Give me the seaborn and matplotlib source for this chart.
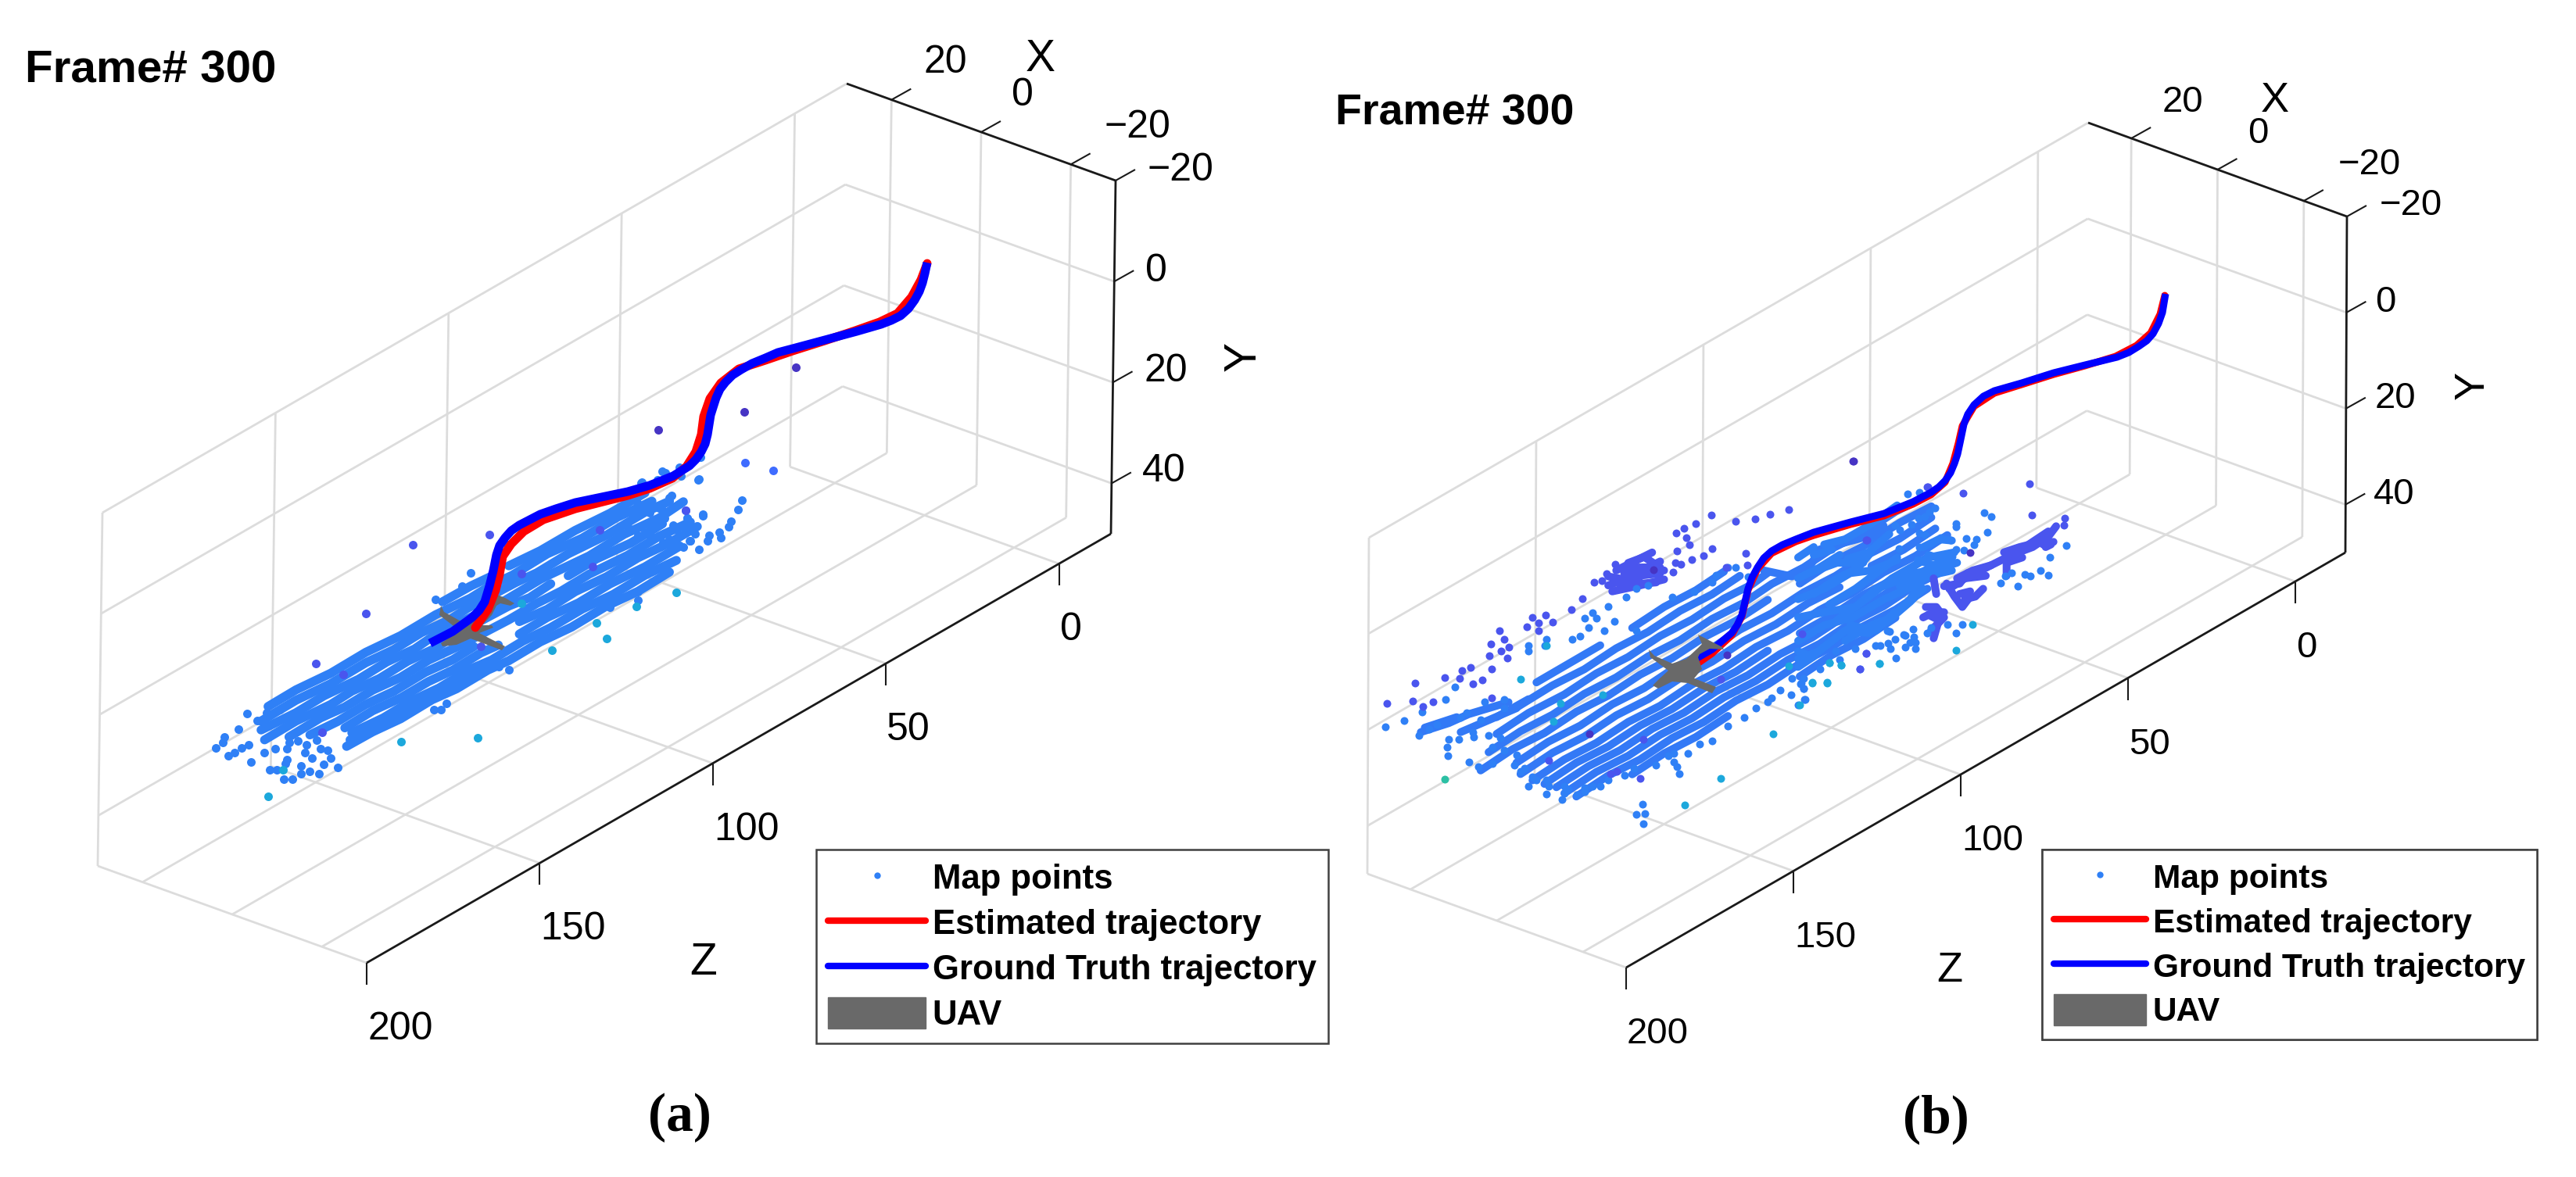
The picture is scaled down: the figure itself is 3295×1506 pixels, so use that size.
import numpy as np
import matplotlib
matplotlib.use("Agg")
import matplotlib.pyplot as plt
from matplotlib.lines import Line2D
from matplotlib.patches import Patch
import seaborn as sns

# ---------------------------------------------------------------- axis data
X_LIM = (-30, 30); Y_LIM = (-20, 50); Z_LIM = (-15, 200)
X_TICKS = [-20, 0, 20]; Y_TICKS = [-20, 0, 20, 40]; Z_TICKS = [0, 50, 100, 150, 200]
TITLE = "Frame# 300"
LEGEND_LABELS = ["Map points", "Estimated trajectory", "Ground Truth trajectory", "UAV"]

# All picture data below were read from the reference. The plane of the page is
# the data space. Values are kept in the units of the crop they were read from.
CROP_A = (200, 600, 2.24, 3.0)      # panel (a), cloud
CROP_A2 = (800, 0, 1.96, 2.24)      # panel (a), upper part of the cloud
CROP_B = (1700, 500, 1.96, 2.61)    # panel (b), main cloud
CROP_B2 = (2300, 500, 3.0, 3.0)     # panel (b), right part of the cloud

# Trajectories (page units)
a_gt = [(1186,336),(1183,350),(1180,362),(1176,373),(1170,384),(1162,395),(1152,404),(1140,410),(1127,415),(1096,424),(1055,435),(1014,446),(995,451),(979,458),(962,465),(948,473),(937,480),(928,489),(921,498),(916,509),(909,531),(905,556),(902,568),(897,578),(890,588),(882,596),(861,609),(831,621),(803,629),(736,643),(711,651),(691,658),(664,672),(654,679),(646,688),(639,698),(635,710),(631,730),(626,750),(620,770),(613,781),(604,790),(579,808),(550,823)]
a_est = [(1186,337),(1178,358),(1166,380),(1148,401),(1125,412),(1094,423),(1055,436),(1014,449),(979,461),(945,472),(922,490),(908,510),(900,533),(897,556),(890,578),(878,597),(860,612),(831,625),(803,634),(736,651),(695,665),(670,680),(654,696),(643,712),(639,735),(634,755),(624,780),(608,803)]
b_gt = [(2770,376),(2768,388),(2766,400),(2761,414),(2754,427),(2746,436),(2736,443),(2723,451),(2708,457),(2667,467),(2627,477),(2586,490),(2551,500),(2537,507),(2525,518),(2517,530),(2512,543),(2507,567),(2504,581),(2500,593),(2495,605),(2488,615),(2480,623),(2470,630),(2447,642),(2410,657),(2367,668),(2320,681),(2297,690),(2280,697),(2266,705),(2256,714),(2248,726),(2241,739),(2236,753),(2228,787),(2222,800),(2215,810),(2190,831),(2159,849)]
b_est = [(2769,378),(2763,402),(2751,426),(2733,442),(2706,456),(2667,468),(2627,479),(2586,492),(2551,503),(2525,520),(2510,545),(2505,567),(2498,593),(2488,617),(2470,633),(2447,645),(2410,660),(2367,671),(2320,685),(2297,693),(2266,708),(2248,728),(2236,755),(2228,789),(2215,813),(2190,836),(2167,852)]

# UAV outlines (page units)
a_uav = [(626,757),(646,765),(658,772),(653,775),(640,772),(635,775),(629,787),(617,800),(629,800),(631,803),(613,810),(646,827),(642,832),(602,817),(584,825),(566,827),(564,823),(579,813),(588,807),(562,787),(564,775),(568,783),(593,797),(608,787),(622,770),(624,763)]
b_uav = [(2172,812),(2203,828),(2205,831),(2187,830),(2174,837),(2172,841),(2177,856),(2167,868),(2195,879),(2190,887),(2159,874),(2139,872),(2121,881),(2114,877),(2123,868),(2134,858),(2111,841),(2109,831),(2116,839),(2139,849),(2157,843),(2172,829),(2177,824)]

# Dense map-point rows: single dots overlap too much to be read one by one, so
# the vertices of each visible row are read and joined by a stroke of dot width.
a_rows = [
 [(820,510),(900,450),(960,412)],
 [(1010,372),(1100,314),(1200,236),(1300,170),(1400,92)],
 [(320,912),(400,848),(500,784),(600,704),(700,640),(800,560),(900,496),(960,446),(1020,408),(1120,326),(1220,266),(1320,186),(1420,124)],
 [(300,968),(400,888),(500,824),(600,744),(680,694),(760,628),(840,579),(890,536),(1030,436),(1090,399),(1180,326),(1290,254),(1400,166),(1470,124)],
 [(300,1002),(400,936),(480,871),(580,807),(660,741),(740,691),(800,636),(1000,504),(1100,424),(1130,404),(1240,334),(1340,251),(1440,189),(1510,126)],
 [(310,1040),(400,968),(500,904),(560,853),(640,804),(720,738),(800,688),(870,626),(1010,526),(1070,494),(1130,441)],
 [(1180,410),(1260,346),(1360,284),(1450,211)],
 [(380,1029),(470,956),(540,914),(620,849),(700,800),(780,734),(860,684),(1010,579),(1090,516),(1160,469),(1240,404),(1350,332),(1440,259),(1530,204)],
 [(440,1021),(520,969),(600,904),(680,854),(770,781),(850,732),(910,682)],
 [(1040,586),(1120,539),(1200,471),(1290,414),(1380,341),(1470,284),(1550,221)],
 [(540,994),(620,928),(700,879),(780,816),(850,772),(930,706),(980,676)],
 [(1040,634),(1120,570),(1210,514),(1300,441),(1400,376),(1500,296)],
 [(560,1013),(650,956),(730,891),(810,841),(900,768),(960,734),(1050,661),(1130,609),(1220,538),(1310,481),(1400,408),(1490,351)],
 [(545,1065),(620,1009),(700,959),(790,886),(860,844),(950,772),(1010,736),(1100,664),(1190,607),(1290,526),(1380,470),(1470,396)],
 [(555,1040),(640,990),(720,930),(800,870),(880,810),(960,760)],
]
a_base = [(170,1070),(195,1030),(190,1050),(205,1100),(225,1090),(245,1070),(265,1060),(270,1125),(235,1000),(260,940),(290,965),(315,935),(355,925),(310,1090),(340,1075),(380,1050),(405,1045),(375,1075),(375,1115),(430,1060),(425,1090),(445,1110),(470,1075),(490,1080),(500,1110),(480,1135),(520,1145),(465,1170),(440,1160),(415,1140),(415,1170),(370,1130),(325,1155),(345,1155),(365,1190),(390,1190),(460,1040),(830,900),(795,925),(815,925),(1010,770),(1300,530),(1415,258),(1380,255),(1440,150),(1470,110),(1455,190),(1520,190),(1510,215),(1490,235),(1470,270),(1530,275),(1555,310),(1510,300),(1565,180),(1555,40),(1390,50),(1450,10),(1380,470),(1380,505),(980,760),(900,400),(875,450),(800,500)]
a2_base = [(188,1310),(183,1375),(100,1355),(135,1340),(140,1365),(40,1385),(80,1375),(292,1433),(283,1460),(265,1495),(258,1510),(235,1525),(240,1540),(210,1535),(205,1550),(160,1550),(175,1530),(150,1463),(195,1475),(155,1485),(120,1505),(115,1420),(110,1435),(90,1455),(60,1470),(30,1440),(15,1470),(40,1510),(60,1535),(95,1555),(125,1515),(5,1510)]
a_violet = [(955,253),(734,290),(600,555),(458,747),(1045,402),(1005,290),(930,680),(535,790),(1517,160),(1270,235),(475,1010),(1250,375)]
a2_violet = [(300,1325),(370,1348)]
a2_dark = [(427,1053),(297,1180),(83,1232),(173,1305)]
a_cyan = [(321,1256),(921,1032),(700,1048),(1133,697),(1290,651),(1262,591),(1490,473),(1375,527),(1045,515),(362,1155)]

b_rows = [
 [(520,974),(600,912),(680,850)],
 [(760,792),(840,722),(920,666),(990,604)],
 [(470,1058),(560,984),(640,930),(720,860),(800,805),(880,735),(960,680),(1030,618)],
 [(420,1146),(500,1076),(590,1014),(670,944),(750,889),(830,819),(910,764),(990,694),(1060,647),(1100,608)],
 [(400,1207),(480,1137),(560,1082),(640,1012),(720,957),(800,887),(880,833),(960,762),(1040,708),(1110,645),(1190,590),(1260,528),(1340,474),(1420,404),(1480,364)],
 [(380,1268),(460,1197),(540,1143),(620,1072),(700,1018),(780,948),(860,893),(940,823),(1020,768),(1100,698)],
 [(1180,644),(1260,573),(1340,519),(1430,441),(1510,386)],
 [(470,1242),(550,1172),(630,1118),(710,1047),(790,993),(870,922),(950,868),(1030,798),(1110,743),(1190,673),(1270,618),(1350,548),(1430,494),(1510,423)],
 [(480,1280),(560,1209),(640,1155),(720,1084),(800,1030),(880,960),(960,905),(1040,835),(1120,780),(1200,710),(1280,656)],
 [(1360,585),(1440,531),(1520,460)],
 [(510,1301),(590,1231),(670,1176),(750,1106),(830,1052),(910,981),(990,927),(1070,856),(1150,802),(1230,732),(1310,677),(1390,607),(1470,552),(1550,482)],
 [(540,1313),(620,1242),(700,1188),(780,1118),(860,1063),(940,993),(1020,938),(1100,868)],
 [(1180,810),(1260,751),(1340,681),(1420,626),(1500,556)],
 [(570,1324),(650,1254),(730,1200),(810,1129),(890,1075),(970,1004),(1050,950),(1130,880),(1210,825),(1290,755),(1370,700),(1450,630),(1530,576)],
 [(590,1344),(670,1273),(750,1219),(830,1149),(910,1094),(990,1024),(1070,969),(1150,899),(1230,845),(1310,774),(1390,720),(1470,649),(1550,595)],
 [(620,1355),(700,1285),(780,1231),(860,1160),(940,1106),(1020,1035),(1100,981),(1180,911),(1260,856),(1340,786),(1420,731),(1500,661)],
 [(760,1281),(840,1211),(920,1156),(1000,1086)],
 [(1180,954),(1260,883),(1340,829),(1420,758)],
 [(230,1140),(300,1110),(350,1080),(400,1060),(450,1040)],
 [(240,1125),(320,1090)],
 [(330,1140),(400,1100),(470,1060)],
 [(420,1090),(500,1030)],
 [(1090,600),(1160,620),(1200,600),(1230,530),(1340,490),(1390,450)],
]
b2_rows = [
 [(100,590),(180,570),(250,530),(310,490),(380,440)],
 [(60,630),(130,610)],
 [(190,645),(270,620),(350,550)],
 [(40,700),(150,660),(250,660)],
 [(0,800),(100,760),(200,700),(280,690),(380,650)],
 [(0,870),(100,850),(220,830),(300,760),(380,730),(450,700),(550,680),(610,660)],
 [(0,960),(100,900),(210,870),(330,800),(420,760),(500,710),(590,690)],
 [(0,1030),(80,1000),(180,920),(270,930),(350,880),(430,800),(480,720)],
 [(390,750),(470,700),(590,660),(500,630)],
 [(0,640),(60,600)],
 [(0,720),(80,680),(160,630)],
 [(60,780),(150,720),(230,680),(280,620)],
 [(120,820),(220,760),(300,700),(380,640)],
 [(150,880),(260,800),(360,720),(430,680),(500,640),(600,620)],
 [(180,960),(280,900),(360,870),(430,810),(480,760)],
 [(0,1000),(50,1020),(130,960),(210,900)],
 [(0,1060),(60,1020)],
 [(460,650),(520,670),(580,650)],
 [(480,600),(540,570),(590,575)],
 [(200,900),(300,920),(370,850)],
]
b2_violet_rows = [
 [(490,830),(530,830),(560,870),(510,920)],
 [(520,720),(530,780)],
 [(560,750),(620,740),(650,700)],
 [(620,730),(700,690),(760,660),(820,630),(900,600),(960,560),(990,520)],
 [(640,800),(680,790),(710,760)],
 [(500,860),(540,880),(520,950)],
 [(940,590),(980,580)],
 [(860,640),(800,660),(800,710)],
 [(580,760),(640,720),(720,710)],
 [(620,780),(660,770)],
 [(840,620),(900,580),(960,540)],
 [(610,720),(670,690),(740,670)],
 [(790,620),(850,600),(890,590)],
 [(480,870),(520,850),(560,850)],
 [(570,740),(600,790),(630,830),(660,790)],
 [(930,570),(970,590),(950,600)],
]
b_violet_rows = [
 [(720,600),(780,560),(810,540)],
 [(700,650),(760,620),(830,610)],
 [(730,650),(820,640)],
 [(740,610),(790,590),(840,600)],
 [(740,590),(800,590),(830,570)],
 [(750,630),(810,600)],
 [(750,575),(790,555),(830,590)],
 [(700,620),(740,630),(780,640)],
 [(710,670),(780,650),(840,630)],
]
b_violet = [(145,1043),(210,1037),(216,976),(290,957),(327,960),(333,935),(354,923),(261,1040),(235,1055),(360,978),(385,967),(408,930),(405,845),(428,800),(440,830),(450,857),(432,868),(402,884),(447,893),(495,788),(510,757),(542,750),(560,773),(525,775),(525,800),(608,730),(635,695),(665,640),(685,635),(695,610),(718,580),(872,535),(863,605),(868,575),(882,580),(910,563),(938,550),(960,527),(903,515),(895,490),(890,460),(870,475),(920,445),(958,415),(1020,435),(1068,427),(1105,413),(1153,398),(1044,543),(995,590),(1048,583),(408,1025),(1185,813),(787,1165),(982,962),(550,1235),(705,1280),(722,1270),(780,1295),(1347,878),(1330,930),(1348,498),(1500,322)]
b_dark = [(1314,236),(813,597),(653,1145),(998,883)]
b_base = [(142,1123),(188,1101),(315,990),(293,1030),(234,1072),(225,1150),(300,1165),(296,1190),(298,1218),(326,1165),(362,1155),(350,1240),(375,1255),(410,1245),(865,1210),(865,1240),(873,1255),(878,1280),(545,1348),(585,1365),(622,1350),(740,1285),(765,1260),(785,1380),(770,1415),(792,1413),(787,1445),(1159,1016),(1192,1032),(1110,1025),(1100,1040),(1176,1050),(1190,995),(1183,975),
 (250,1130),(270,1115),(330,1090),(345,1075),(380,1100),(390,1040),(440,1030),(440,1060),(400,1150),(360,1140),(410,1190),(440,1200),(430,1160),(465,1250),(480,1270),(500,1320),(520,1300),(545,1300),(470,1215),(600,1330),(590,1345),(640,1325),(660,1320),(700,1300),
 (500,850),(545,830),(500,870),(540,850),(610,830),(630,820),(650,790),(670,760),(690,800),(715,770),(770,800),(640,760),(660,740),(700,720),(745,690),(770,660),(800,650),(860,690),(915,670),(960,640),(970,615),(1000,590),(1020,590),(1050,620),
 (490,1260),(510,1290),(590,1320),(550,1320),(640,1340),(680,1320),(820,1250),(850,1220),(900,1210),(930,1180),(960,1170),(1000,1120),(1040,1090),(1070,1060),(1130,1000),(1160,960),(1190,960),(1230,930),(1270,870),(1320,860),(1370,850),(1420,830),(1440,815),(1470,840),(1500,810),(1550,780),(1510,790),(1400,800)]
b_cyan = [(481,964),(581,1043),(1114,1145),(982,1295),(891,1383),(1254,908),(1284,915),(1380,912),(1212,975),(1248,975),(1152,920),(545,850),(563,1105),(686,1015)]
b_teal = [(290,1298)]
b2_base = [(525,450),(505,465),(487,482),(462,488),(435,513),(465,547),(485,553),(390,535),(372,515),(420,397),(465,390),(715,468),(742,482),(605,510),(605,522),(725,542),(645,568),(683,570),(675,590),(388,607),(465,600),(510,585),(545,565),(585,573),(605,610),(635,612),(590,635),(843,750),(778,738),(795,712),(820,700),(890,712),(870,705),(930,690),(960,707),(965,640),(1030,595),(630,897),(605,930),(375,1025),(238,1068),(160,1032),(20,1143),(10,1125),(28,1185),(450,990),(410,983),(355,990),(345,970),(315,977),(440,915),(410,940),(445,945),(430,965),(350,925)]
b2_violet = [(888,358),(632,394),(896,478),(1022,490),(1020,515),(262,572),(497,368),(262,1007)]
b2_dark = [(660,620),(212,270)]
b2_cyan = [(668,897),(607,997),(312,1048),(165,1052),(120,1045),(112,1120),(55,1120),(5,1205)]

# ---------------------------------------------------------------- colours
GRID = "#DCDCDC"; BASE = "#2F80F6"; BASE_B = "#3379F6"; VIOLET = "#4A55EE"; DARK = "#4634C4"
CYAN = "#1CA8DC"; TEAL = "#2CC0A4"; UAV = "#696969"; RED = "#FF0000"; BLUE = "#0000FF"

sns.set_theme(style="white")
plt.rcParams["font.family"] = ["Liberation Sans", "DejaVu Sans"]
plt.rcParams["text.color"] = "black"

W, H = 3295, 1506
fig = plt.figure(figsize=(W / 100, H / 100), dpi=100)
ax = fig.add_axes([0, 0, 1, 1])
PX = 0.72  # points per pixel


def page(pts, crop=None):
    p = np.asarray(pts, float)
    if crop is not None:
        ox, oy, sx, sy = crop
        p = np.c_[ox + p[:, 0] / sx, oy + p[:, 1] / sy]
    return p


def stroke(p, color, lw, z=2, cap="round"):
    sns.lineplot(x=p[:, 0], y=p[:, 1], sort=False, estimator=None, color=color,
                 linewidth=lw, ax=ax, zorder=z, legend=False, solid_capstyle=cap,
                 solid_joinstyle="round")


def dots(pts, crop, color, diam, z=3):
    p = page(pts, crop)
    sns.scatterplot(x=p[:, 0], y=p[:, 1], color=color, s=(diam * PX) ** 2, linewidth=0,
                    ax=ax, zorder=z, legend=False)


def draw_box(O, ux, uy, uz):
    O, ux, uy, uz = map(lambda v: np.asarray(v, float), (O, ux, uy, uz))
    P = lambda x, y, z: O + (x - X_LIM[0]) * ux + (y - Y_LIM[0]) * uy + (z - Z_LIM[0]) * uz
    seg = lambda a, b, c, lw, z=1: stroke(np.array([a, b]), c, lw, z, "butt")
    g = 2.0
    for y in Y_TICKS:
        seg(P(X_LIM[1], y, Z_LIM[0]), P(X_LIM[1], y, Z_LIM[1]), GRID, g)
        seg(P(X_LIM[1], y, Z_LIM[0]), P(X_LIM[0], y, Z_LIM[0]), GRID, g)
    for z in Z_TICKS:
        seg(P(X_LIM[1], Y_LIM[0], z), P(X_LIM[1], Y_LIM[1], z), GRID, g)
        seg(P(X_LIM[1], Y_LIM[1], z), P(X_LIM[0], Y_LIM[1], z), GRID, g)
    for x in X_TICKS:
        seg(P(x, Y_LIM[0], Z_LIM[0]), P(x, Y_LIM[1], Z_LIM[0]), GRID, g)
        seg(P(x, Y_LIM[1], Z_LIM[0]), P(x, Y_LIM[1], Z_LIM[1]), GRID, g)
    k = 2.0
    seg(P(X_LIM[1], Y_LIM[0], Z_LIM[0]), P(X_LIM[0], Y_LIM[0], Z_LIM[0]), "k", k, 5)
    seg(P(X_LIM[0], Y_LIM[0], Z_LIM[0]), P(X_LIM[0], Y_LIM[1], Z_LIM[0]), "k", k, 5)
    seg(P(X_LIM[0], Y_LIM[1], Z_LIM[0]), P(X_LIM[0], Y_LIM[1], Z_LIM[1]), "k", k, 5)
    out = (25, -14)
    for x in X_TICKS:
        a = P(x, Y_LIM[0], Z_LIM[0]); seg(a, a + out, "k", 1.5, 5)
    for y in Y_TICKS:
        a = P(X_LIM[0], y, Z_LIM[0]); seg(a, a + out, "k", 1.5, 5)
    for z in Z_TICKS:
        a = P(X_LIM[0], Y_LIM[1], z); seg(a, a + (0, 28), "k", 1.5, 5)
    return P


def number(v):
    return str(v).replace("-", "\u2212")


def texts(P, fs, xlabs, ylabs, xpos, ypos, zpos):
    for v, (x, y) in zip(X_TICKS, xlabs):
        ax.text(x, y, number(v), fontsize=fs, ha="center", va="center_baseline")
    for v, (x, y) in zip(Y_TICKS, ylabs):
        ax.text(x, y, number(v), fontsize=fs, ha="center", va="center_baseline")
    for z in Z_TICKS:
        a = P(X_LIM[0], Y_LIM[1], z)
        ax.text(a[0] + 1, a[1] + 80, str(z), fontsize=fs, ha="left", va="center_baseline")
    ax.text(*xpos, "X", fontsize=fs + 5, ha="center", va="center_baseline")
    ax.text(*ypos, "Y", fontsize=fs + 5, ha="center", va="center", rotation=90)
    ax.text(*zpos, "Z", fontsize=fs + 5, ha="center", va="center_baseline")


def add_legend(anchor, fs, spacing, pad, hl, hh):
    hs = [Line2D([], [], ls="", marker="o", ms=6, mfc=BASE, mec="none"),
          Line2D([], [], color=RED, lw=6),
          Line2D([], [], color=BLUE, lw=6),
          Patch(color=UAV)]
    leg = ax.legend(hs, LEGEND_LABELS, loc="upper left", bbox_to_anchor=anchor,
                    bbox_transform=ax.transData, prop={"family": "Liberation Sans", "weight": "bold", "size": fs},
                    frameon=True, fancybox=False, edgecolor="#404040", facecolor="white", framealpha=1,
                    handlelength=hl, handleheight=hh, labelspacing=spacing, borderpad=pad,
                    handletextpad=0.2, borderaxespad=0)
    leg.get_frame().set_linewidth(1.8)
    leg.set_zorder(8)
    ax.add_artist(leg)


# ---------------------------------------------------------------- panel (a)
Pa = draw_box((1427, 231), (-344 / 60, -124 / 60), (-6 / 70, 452 / 70), (-952 / 215, 549 / 215))
for r in a_rows:
    stroke(page(r, CROP_A), BASE, 11.5 * PX)
dots(a_base, CROP_A, BASE, 11)
dots(a2_base, CROP_A2, BASE, 11)
dots(a_violet, CROP_A, VIOLET, 11)
dots(a2_violet, CROP_A2, "#3F6CFF", 11)
dots(a2_dark, CROP_A2, DARK, 11)
dots(a_cyan, CROP_A, CYAN, 11)
p = page(a_uav); ax.fill(p[:, 0], p[:, 1], color=UAV, lw=0, zorder=4)
stroke(page(a_est), RED, 11 * PX, 4.5)
stroke(page(a_gt), BLUE, 11 * PX, 4.6, "butt")
texts(Pa, 36, [(1455, 158), (1308, 117), (1209, 75)], [(1510, 213), (1479, 342), (1491, 470), (1489, 598)],
      (1331, 70), (1591, 456), (900, 1226))
ax.text(32, 105, TITLE, fontsize=42, fontweight="bold", ha="left", va="baseline")
ax.text(869, 1430, "(a)", fontsize=50, fontweight="bold", family="Liberation Serif", ha="center", va="center")
add_legend((1044, 1087), 31.5, 0.32, 0.35, 2.85, 1.03)

# ---------------------------------------------------------------- panel (b)
Pb = draw_box((3002, 277), (-331 / 60, -120 / 60), (-2 / 70, 430 / 70), (-920 / 215, 531 / 215))
for r in b_rows:
    stroke(page(r, CROP_B), BASE_B, 10 * PX)
for r in b2_rows:
    stroke(page(r, CROP_B2), BASE, 10 * PX)
for r in b2_violet_rows:
    stroke(page(r, CROP_B2), VIOLET, 10 * PX, 2.5)
for r in b_violet_rows:
    stroke(page(r, CROP_B), VIOLET, 10 * PX, 2.5)
dots(b_base, CROP_B, BASE, 10)
dots(b2_base, CROP_B2, BASE, 10)
dots(b_violet, CROP_B, VIOLET, 10)
dots(b2_violet, CROP_B2, VIOLET, 10)
dots(b_dark, CROP_B, DARK, 10)
dots(b2_dark, CROP_B2, DARK, 10)
dots(b_cyan, CROP_B, CYAN, 10)
dots(b2_cyan, CROP_B2, CYAN, 10)
dots(b_teal, CROP_B, TEAL, 10)
stroke(page(b_est), RED, 9 * PX, 4.4)
stroke(page(b_gt), BLUE, 9 * PX, 4.5, "butt")
p = page(b_uav); ax.fill(p[:, 0], p[:, 1], color=UAV, lw=0, zorder=4.7)
texts(Pb, 34, [(3031, 206), (2888, 166), (2792, 126)], [(3084, 258), (3051, 382), (3064, 505), (3062, 628)],
      (2910, 123), (3163, 493), (2494, 1236))
ax.text(1708, 159, TITLE, fontsize=40, fontweight="bold", ha="left", va="baseline")
ax.text(2476, 1432, "(b)", fontsize=50, fontweight="bold", family="Liberation Serif", ha="center", va="center")
add_legend((2612, 1087), 30.5, 0.32, 0.35, 2.8, 1.06)

ax.set_xlim(0, W)
ax.set_ylim(H, 0)
ax.axis("off")
fig.savefig("out.png", dpi=100, facecolor="white")
